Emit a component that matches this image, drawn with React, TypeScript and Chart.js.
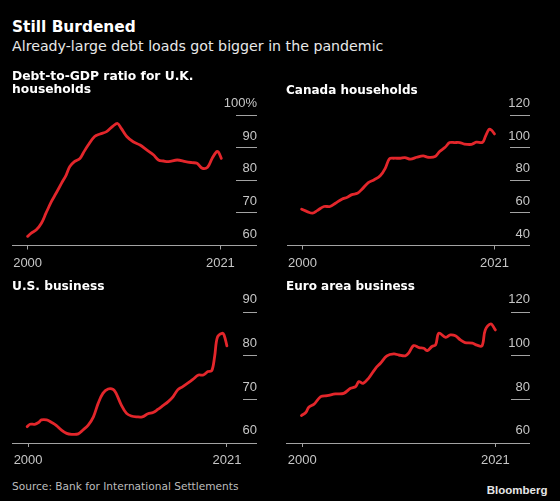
import React, { useEffect, useRef } from "react";
import { Chart, registerables } from "chart.js";

Chart.register(...registerables);

// ---------- data ----------
const xTickYears = [2000, 2021];

const ukYears = [2000.0, 2000.4, 2000.95, 2001.5, 2002.0, 2002.6, 2003.1, 2003.7, 2004.2, 2004.6, 2005.1, 2005.7, 2006.05, 2006.6, 2007.3, 2007.9, 2008.6, 2009.3, 2009.8, 2010.2, 2010.8, 2011.5, 2012.25, 2012.97, 2013.7, 2014.25, 2014.8, 2015.35, 2016.3, 2017.2, 2017.9, 2018.45, 2019.0, 2019.6, 2020.1, 2020.6, 2020.8, 2021.1];
const ukValues = [62.8, 63.8, 64.8, 66.8, 69.9, 73.5, 76.0, 79.1, 81.6, 84.2, 85.7, 86.7, 88.3, 90.8, 93.4, 94.2, 94.9, 96.6, 97.4, 95.9, 93.4, 91.8, 90.8, 89.3, 87.8, 86.2, 85.9, 85.7, 86.2, 85.7, 85.4, 85.2, 83.7, 84.0, 86.7, 88.8, 88.6, 86.7];
const ukYTicks = [60, 70, 80, 90, 100];

const caYears = [1999.9, 2000.5, 2001.1, 2001.6, 2002.35, 2003.0, 2003.6, 2004.3, 2004.9, 2005.4, 2006.0, 2006.5, 2007.2, 2007.8, 2008.5, 2009.05, 2009.5, 2009.96, 2010.7, 2011.2, 2011.8, 2012.5, 2013.2, 2013.75, 2014.5, 2015.0, 2015.6, 2016.1, 2016.65, 2017.2, 2017.7, 2018.5, 2019.0, 2019.7, 2020.0, 2020.4, 2020.65, 2021.0];
const caValues = [62.2, 60.8, 59.8, 61.4, 63.9, 63.9, 65.9, 68.4, 69.6, 71.2, 72.0, 74.5, 78.6, 80.2, 82.7, 87.3, 93.1, 93.5, 93.5, 93.9, 92.9, 94.1, 94.9, 94.1, 94.5, 97.6, 100.2, 103.1, 103.1, 103.1, 102.2, 102.0, 103.3, 103.3, 106.7, 111.2, 110.8, 108.4];
const caYTicks = [40, 60, 80, 100, 120];

const usYears = [1999.9, 2000.2, 2000.7, 2001.1, 2001.4, 2001.96, 2002.5, 2003.0, 2003.5, 2004.07, 2004.6, 2005.3, 2005.8, 2006.35, 2006.9, 2007.4, 2007.9, 2008.45, 2009.0, 2009.3, 2009.85, 2010.4, 2010.9, 2011.5, 2012.06, 2012.66, 2013.2, 2013.7, 2014.2, 2014.8, 2015.3, 2015.8, 2016.3, 2016.9, 2017.4, 2018.0, 2018.5, 2019.0, 2019.4, 2019.7, 2020.0, 2020.5, 2020.7, 2021.0];
const usValues = [63.75, 64.3, 64.3, 64.7, 65.3, 65.3, 64.7, 64.0, 63.0, 62.2, 62.0, 62.1, 63.0, 64.1, 66.0, 69.1, 71.4, 72.4, 72.3, 71.4, 68.7, 66.8, 66.2, 66.0, 66.0, 66.7, 67.0, 67.7, 68.5, 69.5, 70.6, 72.2, 72.9, 73.8, 74.6, 75.6, 75.6, 76.4, 76.6, 79.8, 84.3, 85.2, 84.8, 82.3];
const usYTicks = [60, 70, 80, 90];

const euYears = [1999.9, 2000.4, 2000.7, 2001.3, 2002.0, 2002.7, 2003.6, 2004.5, 2005.25, 2005.8, 2006.15, 2006.6, 2007.2, 2007.97, 2008.5, 2009.2, 2009.96, 2010.5, 2011.2, 2011.6, 2012.1, 2012.7, 2013.2, 2013.6, 2014.1, 2014.5, 2014.85, 2015.6, 2016.1, 2016.65, 2017.2, 2017.7, 2018.5, 2019.0, 2019.55, 2019.9, 2020.5, 2021.0];
const euValues = [72.6, 74.1, 76.4, 77.9, 81.3, 81.7, 82.5, 82.8, 85.1, 85.9, 88.2, 87.4, 89.7, 94.3, 96.6, 100.0, 100.9, 100.4, 100.0, 101.5, 104.7, 103.8, 103.5, 102.4, 104.3, 105.0, 110.4, 108.5, 109.6, 109.2, 107.3, 106.1, 105.8, 104.9, 104.6, 111.9, 114.7, 111.9];
const euYTicks = [60, 80, 100, 120];

// ---------- styles ----------
const RED = "#e3262b";
const GRID = "#a3a3a3";
const TICK = "#c6c6c6";
const X_MIN = 1998.3;
const X_MAX = 2022.7;
const TICK_FONT = { family: "'Liberation Sans', Arial, sans-serif", size: 13 };

type PanelProps = {
  left: number; top: number; width: number; height: number;
  years: number[]; values: number[]; yTicks: number[];
  pad: { left: number; right: number; top: number; bottom: number };
  segW: number; labelOffset: number;
  fmt: (v: number) => string;
};

function Panel(p: PanelProps) {
  const ref = useRef<HTMLCanvasElement>(null);
  useEffect(() => {
    const chart = new Chart(ref.current as HTMLCanvasElement, {
      type: "line",
      data: {
        datasets: [
          {
            data: p.years.map((x, i) => ({ x, y: p.values[i] })),
            borderColor: RED,
            borderWidth: 2.8,
            pointRadius: 0,
            tension: 0.35,
            fill: false,
            borderCapStyle: "round",
            borderJoinStyle: "round",
          },
        ],
      },
      options: {
        responsive: false,
        animation: false,
        devicePixelRatio: 1,
        layout: { padding: p.pad },
        plugins: { legend: { display: false }, tooltip: { enabled: false } },
        scales: {
          x: {
            type: "linear",
            min: X_MIN,
            max: X_MAX,
            afterBuildTicks: (s: any) => {
              s.ticks = xTickYears.map((v) => ({ value: v }));
            },
            afterFit: (s: any) => {
              s.height = 24;
              s.paddingLeft = 0;
              s.paddingRight = 0;
            },
            grid: { drawOnChartArea: false, drawTicks: true, tickLength: 4, color: GRID, lineWidth: 1 },
            border: { display: true, color: GRID, width: 1 },
            ticks: {
              color: TICK,
              font: TICK_FONT,
              padding: 6,
              maxRotation: 0,
              autoSkip: false,
              callback: (v: any) => String(v),
            },
          },
          y: {
            type: "linear",
            position: "right",
            min: p.yTicks[0],
            max: p.yTicks[p.yTicks.length - 1],
            afterBuildTicks: (s: any) => {
              s.ticks = p.yTicks.map((v) => ({ value: v }));
            },
            afterFit: (s: any) => {
              s.width = p.segW;
              s.paddingTop = 0;
              s.paddingBottom = 0;
            },
            grid: { drawOnChartArea: false, drawTicks: true, tickLength: p.segW, color: GRID, lineWidth: 1 },
            border: { display: false },
            ticks: {
              mirror: true,
              padding: p.segW,
              labelOffset: p.labelOffset,
              color: TICK,
              font: TICK_FONT,
              autoSkip: false,
              callback: (v: any) => p.fmt(Number(v)),
            },
          },
        },
      },
    } as any);
    return () => chart.destroy();
  }, []);
  return (
    <canvas
      ref={ref}
      width={p.width}
      height={p.height}
      style={{ position: "absolute", left: p.left, top: p.top, width: p.width, height: p.height }}
    />
  );
}

const DJ = "'DejaVu Sans', Verdana, sans-serif";

function Txt(props: { left?: number; right?: number; top: number; size: number; bold?: boolean; color: string; family?: string; lh?: number; children: React.ReactNode }) {
  return (
    <div
      style={{
        position: "absolute",
        left: props.left,
        right: props.right,
        top: props.top,
        fontFamily: props.family || DJ,
        fontSize: props.size,
        fontWeight: props.bold ? 700 : 400,
        color: props.color,
        lineHeight: (props.lh ?? props.size) + "px",
        whiteSpace: "nowrap",
      }}
    >
      {props.children}
    </div>
  );
}

export default function App() {
  const plain = (v: number) => String(v);
  return (
    <div style={{ position: "fixed", left: 0, top: 0, width: 560, height: 501, background: "#000", overflow: "hidden" }}>
      <Panel left={0} top={95} width={280} height={185} years={ukYears} values={ukValues} yTicks={ukYTicks}
        pad={{ left: 12, right: 23, top: 20, bottom: 10.5 }} segW={21} labelOffset={-11.5}
        fmt={(v) => (v === 100 ? "100%" : String(v))} />
      <Panel left={280} top={95} width={280} height={185} years={caYears} values={caValues} yTicks={caYTicks}
        pad={{ left: 7, right: 30, top: 20, bottom: 10.5 }} segW={20} labelOffset={-11.5} fmt={plain} />
      <Panel left={0} top={292} width={280} height={185} years={usYears} values={usValues} yTicks={usYTicks}
        pad={{ left: 12, right: 23, top: 20.3, bottom: 10 }} segW={14} labelOffset={-12.5} fmt={plain} />
      <Panel left={280} top={292} width={280} height={185} years={euYears} values={euValues} yTicks={euYTicks}
        pad={{ left: 6.7, right: 30, top: 20.3, bottom: 10 }} segW={19} labelOffset={-12.5} fmt={plain} />

      <Txt left={12} top={20.3} size={15.4} bold color="#ffffff">Still Burdened</Txt>
      <Txt left={12} top={39} size={14.2} color="#e8e8e8">Already-large debt loads got bigger in the pandemic</Txt>
      <Txt left={12} top={70.3} size={12.3} lh={13} bold color="#ffffff">
        Debt-to-GDP ratio for U.K.<br />households
      </Txt>
      <Txt left={286} top={83.5} size={12} lh={13} bold color="#ffffff">Canada households</Txt>
      <Txt left={12} top={279.9} size={12.2} lh={13} bold color="#ffffff">U.S. business</Txt>
      <Txt left={286} top={279.9} size={12} lh={13} bold color="#ffffff">Euro area business</Txt>
      <Txt left={12} top={480.6} size={10.6} color="#bdbdbd">Source: Bank for International Settlements</Txt>
      <Txt right={12.5} top={484.6} size={11.5} bold color="#e6e6e6" family="'Liberation Sans', Arial, sans-serif">Bloomberg</Txt>
    </div>
  );
}
